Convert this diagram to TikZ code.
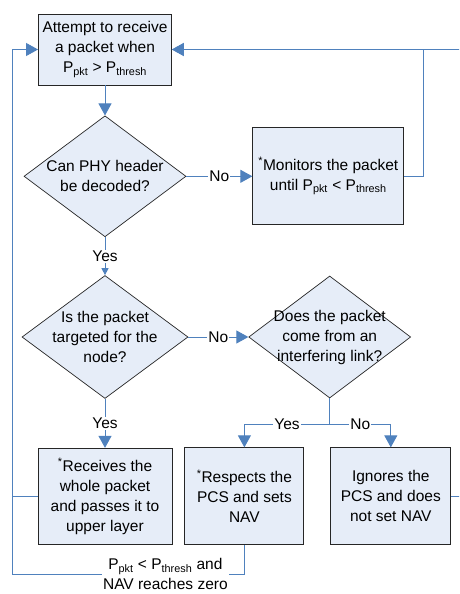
\documentclass[tikz,border=0pt]{standalone}
\usepackage{fontspec}
\setmainfont{Liberation Sans}
\usepackage{xcolor}
\usetikzlibrary{arrows.meta}
\usetikzlibrary{positioning, shapes.geometric}

\definecolor{flowblue}{HTML}{4F81BD}
\definecolor{boxfill}{HTML}{E6EDF8}
\newcommand{\Ppkt}{P\textsubscript{pkt}}
\newcommand{\Pthr}{P\textsubscript{thresh}}

\begin{document}
\begin{tikzpicture}[
    x=1pt, y=1pt,
    font=\fontsize{15.5pt}{20pt}\selectfont,
    stepbox/.style={draw=black!85, fill=boxfill, line width=0.9pt, align=center, inner sep=2pt},
    decision/.style={diamond, draw=black!85, fill=boxfill, line width=0.7pt, inner sep=0pt},
    qtext/.style={align=center, inner sep=0pt},
    flow/.style={draw=flowblue, line width=0.9pt, -{Triangle[width=13pt,length=12pt]}},
    flowsmall/.style={draw=flowblue, line width=0.9pt, -{Triangle[width=7pt,length=7pt]}},
    link/.style={draw=flowblue, line width=0.9pt},
    tag/.style={fill=white, inner sep=1pt, align=center}
  ]
  \useasboundingbox (0,0) rectangle (459,-594);
  \clip (0,0) rectangle (459,-594);

  % blocks and decisions
  \node[stepbox, minimum width=133pt, minimum height=71pt] (start) at (105,-49.5)
    {Attempt to receive\\a packet when\\\Ppkt{} > \Pthr};
  \node[decision, minimum width=162pt, minimum height=121pt, below=30pt of start] (qphy) {};
  \node[qtext] (qphytext) at (qphy) {Can PHY header\\be decoded?};
  \node[stepbox, minimum width=151pt, minimum height=97pt, right=66pt of qphy] (monitor)
    {\textsuperscript{*}Monitors the packet\\until \Ppkt{} < \Pthr};
  \node[decision, minimum width=166pt, minimum height=123pt, below=38pt of qphy] (qnode) {};
  \node[qtext] (qnodetext) at (qnode) {Is the packet\\targeted for the\\node?};
  \node[decision, minimum width=162pt, minimum height=122pt, right=60pt of qnode] (qlink) {};
  \node[qtext] (qlinktext) at (qlink) {Does the packet\\come from an\\interfering link?};
  \node[stepbox, minimum width=134pt, minimum height=96pt, below=49pt of qnode] (recv)
    {\textsuperscript{*}Receives the\\whole packet\\and passes it to\\upper layer};
  \node[stepbox, minimum width=119pt, minimum height=97pt, right=12pt of recv] (respect)
    {\textsuperscript{*}Respects the\\PCS and sets\\NAV};
  \node[stepbox, minimum width=120pt, minimum height=97pt, right=26pt of respect] (ignore)
    {Ignores the\\PCS and does\\not set NAV};
  \coordinate (lcorner) at (12,-574);

  % connectors
  \draw[flow] (start.south) -- (qphy.north);
  \draw[flow] (qphy.east) -- node[tag] (nophy) {No} (monitor.west);
  \draw[flow] (monitor.east) -- ++(19,0) |- (start.east);
  \draw[flowsmall] (qphy.south) -- node[tag] (yesphy) {Yes} (qnode.north);
  \draw[flow] (qnode.east) -- node[tag] (nonode) {No} (qlink.west);
  \draw[flow] (qnode.south) -- node[tag] (yesnode) {Yes} (recv.north);
  \draw[link] (qlink.south) -- ++(0,-26) coordinate (split);
  \draw[flow] (split) -| node[tag, pos=0.25] (yeslink) {Yes} (respect.north);
  \draw[flow] (split) -| node[tag, pos=0.25] (nolink) {No} (ignore.north);
  \draw[flow] (ignore.east) -- ++(30,0) |- (start.east);
  \draw[link] (recv.west) -- (recv.west -| lcorner);
  \draw[flow] (respect.south) |- node[tag, pos=0.67] (navzero)
    {\Ppkt{} < \Pthr{} and\\NAV reaches zero} (lcorner) |- (start.west);
\end{tikzpicture}
\end{document}
